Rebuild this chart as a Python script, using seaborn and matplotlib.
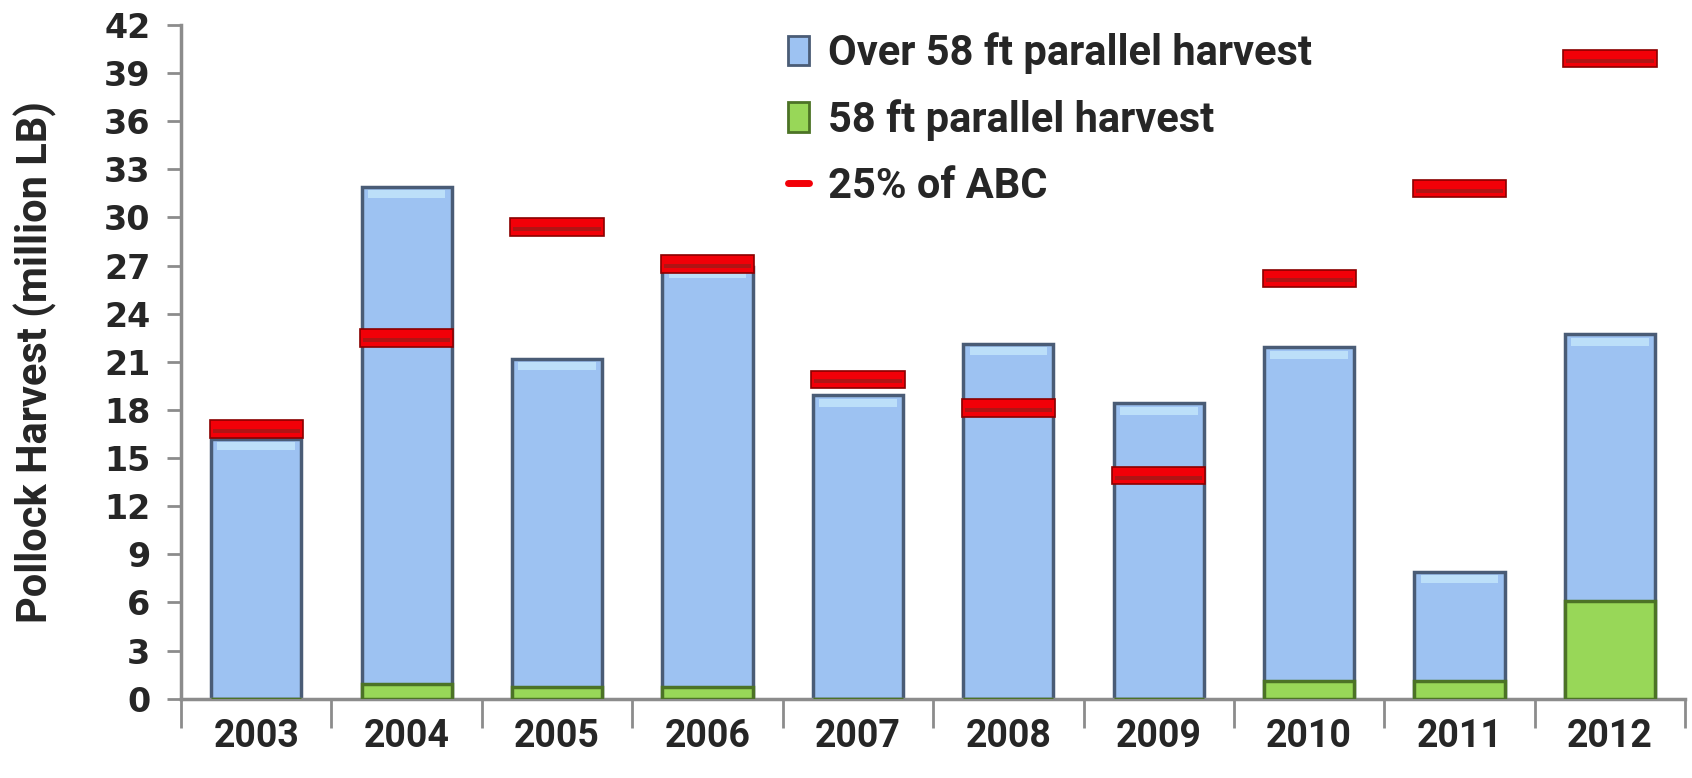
import numpy as np
import pandas as pd
import seaborn as sns
import matplotlib.pyplot as plt
from matplotlib.patches import Patch
from matplotlib.lines import Line2D

# values (million LB)
years = ['2003', '2004', '2005', '2006', '2007', '2008', '2009', '2010', '2011', '2012']
total_harvest = [16.2, 31.9, 21.2, 26.9, 18.9, 22.1, 18.4, 21.9, 7.9, 22.7]
ft58_harvest = [0.0, 0.9, 0.7, 0.7, 0.0, 0.0, 0.0, 1.1, 1.1, 6.1]
abc_25 = [16.8, 22.5, 29.4, 27.1, 19.9, 18.1, 13.9, 26.2, 31.8, 39.9]
over58_harvest = [t - g for t, g in zip(total_harvest, ft58_harvest)]

df = pd.DataFrame({'year': years, 'total': total_harvest, 'ft58': ft58_harvest,
                   'over58': over58_harvest, 'abc': abc_25})

sns.set_style('white')
plt.rcParams['font.family'] = ['Roboto', 'DejaVu Sans']

blue = '#9DC2F2'
blue_edge = '#4a5c76'
blue_hi = '#bcdff9'
green = '#98D758'
green_edge = '#4c7326'
red = '#F20008'
red_edge = '#8a0000'
grey = '#8c8c8c'

fig = plt.figure(figsize=(16.92, 7.78), dpi=100)
fig.subplots_adjust(left=0.107, right=0.996, bottom=0.102, top=0.968)
ax = fig.add_subplot(111)

bw = 0.6
# stacked bars: over-58 ft part sits on top of the 58 ft part
sns.barplot(data=df, x='year', y='total', color=blue, width=bw, saturation=1,
            edgecolor=blue_edge, linewidth=2.5, ax=ax, zorder=2)
# light bevel along the top of each blue bar
sns.barplot(x=df['year'], y=[0.5] * len(df), bottom=df['total'] - 0.7,
            color=blue_hi, width=bw * 0.86, saturation=1, linewidth=0,
            ax=ax, zorder=2.5)
sns.barplot(data=df, x='year', y='ft58', color=green, width=bw, saturation=1,
            edgecolor=green_edge, linewidth=2.5, ax=ax, zorder=3)

# 25% of ABC shown as short thick red bars
thick = 1.1
sns.barplot(x=df['year'], y=[thick] * len(df), bottom=df['abc'] - thick / 2,
            color=red, width=0.62, saturation=1, edgecolor=red_edge,
            linewidth=1.2, ax=ax, zorder=4)
sns.barplot(x=df['year'], y=[0.25] * len(df), bottom=df['abc'] - thick / 2 + 0.3,
            color='#b01414', width=0.58, saturation=1, linewidth=0,
            ax=ax, zorder=4.5)

ax.set_xlim(-0.5, len(years) - 0.5)
ax.set_ylim(0, 42)
ax.set_yticks(range(0, 43, 3))
ax.set_xticks(range(len(years)))
ax.set_xticklabels(years)
ax.set_xticks(np.arange(-0.5, len(years), 1), minor=True)

ax.set_xlabel('')
ax.set_ylabel('Pollock Harvest (million LB)', fontsize=30, fontweight='bold',
              labelpad=34)

for lab in ax.get_yticklabels():
    lab.set_family('DejaVu Sans')
    lab.set_fontweight('bold')
    lab.set_fontsize(24)
for lab in ax.get_xticklabels():
    lab.set_fontweight('bold')
    lab.set_fontsize(27)

ax.tick_params(axis='x', which='major', length=0, pad=14)
ax.tick_params(axis='x', which='minor', length=21, width=2, color=grey,
               bottom=True)
ax.tick_params(axis='y', which='major', length=10, width=2, color=grey, pad=12,
               left=True)

sns.despine(ax=ax)
for side in ['left', 'bottom']:
    ax.spines[side].set_color(grey)
    ax.spines[side].set_linewidth(2.5)

handles = [
    Patch(facecolor=blue, edgecolor=blue_edge, linewidth=2),
    Patch(facecolor=green, edgecolor=green_edge, linewidth=2),
    Line2D([0], [0], color=red, linewidth=5),
]
labels = ['Over 58 ft parallel harvest', '58 ft parallel harvest', '25% of ABC']
leg = fig.legend(handles, labels, loc='upper left', bbox_to_anchor=(0.466, 0.959),
                 frameon=False, handlelength=0.5, handleheight=0.7,
                 handletextpad=0.45, labelspacing=0.6, borderpad=0,
                 borderaxespad=0, prop={'weight': 'bold', 'size': 30})

fig.savefig('out.png', dpi=100)
